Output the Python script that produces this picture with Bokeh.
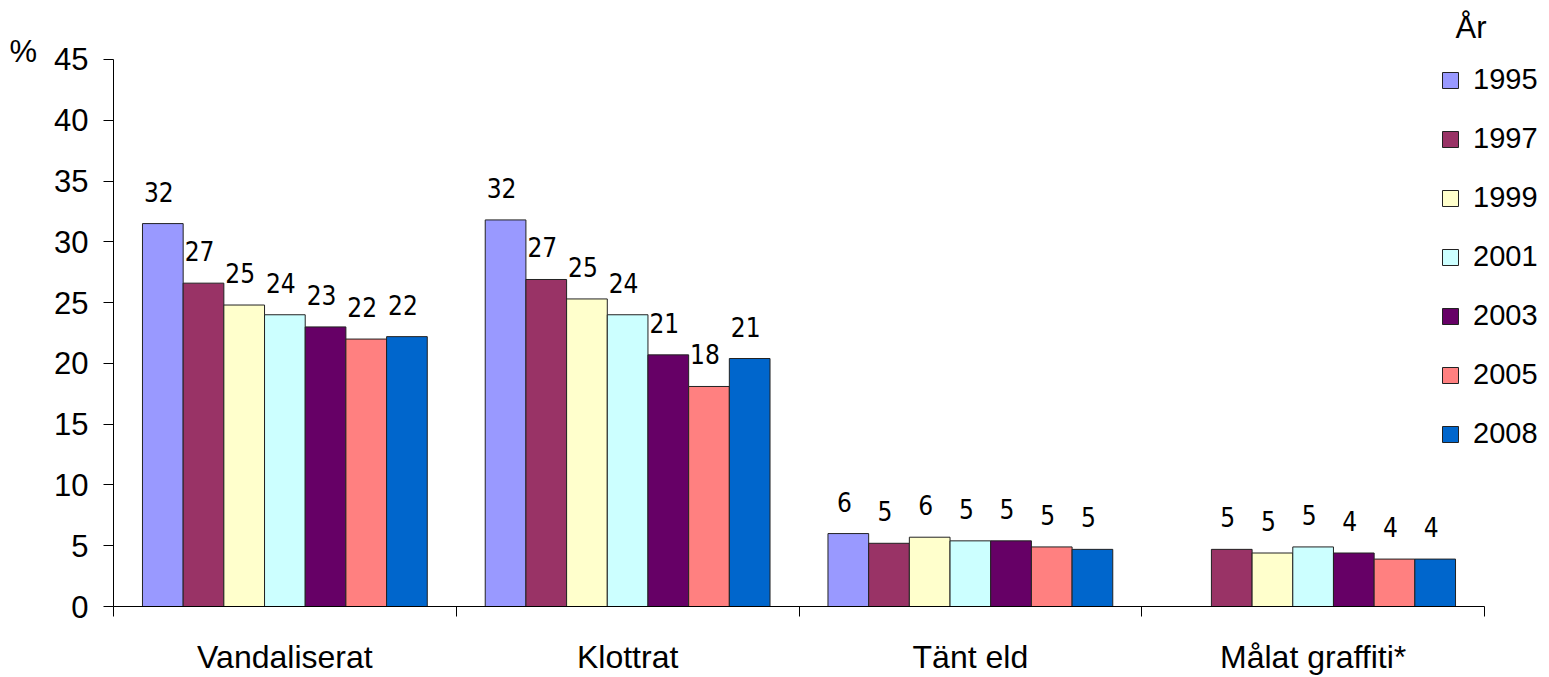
import numpy as np
from bokeh.plotting import figure
from bokeh.models import (FixedTicker, Legend, LegendItem, LabelSet,
                          ColumnDataSource, Range1d)
from bokeh.core.properties import value
from bokeh.embed import file_html
from bokeh.resources import INLINE

categories = ["Vandaliserat", "Klottrat", "Tänt eld", "Målat graffiti*"]
years = ["1995", "1997", "1999", "2001", "2003", "2005", "2008"]
colors = ["#9999FF", "#993366", "#FFFFCC", "#CCFFFF", "#660066", "#FF8080", "#0066CC"]

v1995 = [31.5, 31.8, 6.0, np.nan]
v1997 = [26.6, 26.9, 5.2, 4.7]
v1999 = [24.8, 25.3, 5.7, 4.4]
v2001 = [24.0, 24.0, 5.4, 4.9]
v2003 = [23.0, 20.7, 5.4, 4.4]
v2005 = [22.0, 18.1, 4.9, 3.9]
v2008 = [22.2, 20.4, 4.7, 3.9]
series = [v1995, v1997, v1999, v2001, v2003, v2005, v2008]

l1995 = ["32", "32", "6", ""]
l1997 = ["27", "27", "5", "5"]
l1999 = ["25", "25", "6", "5"]
l2001 = ["24", "24", "5", "5"]
l2003 = ["23", "21", "5", "4"]
l2005 = ["22", "18", "5", "4"]
l2008 = ["22", "21", "5", "4"]
labels = [l1995, l1997, l1999, l2001, l2003, l2005, l2008]

yticks = list(range(0, 46, 5))
ymax = 45

FONT = "Liberation Sans"
NARROW = "DejaVu Sans Condensed"

ncat = len(categories)
TOP = 50
x_end = ncat * (1549 - 113) / (1484 - 113)
y_end = ymax * (607 - TOP) / (607 - 58)

p = figure(width=1549, height=677, output_backend="svg", toolbar_location=None,
           x_range=Range1d(0, x_end), y_range=Range1d(0, y_end),
           min_border_left=113, min_border_right=0, min_border_top=TOP,
           min_border_bottom=70, title="År")
p.outline_line_color = None
p.xgrid.visible = False
p.ygrid.visible = False
p.background_fill_color = "white"
p.border_fill_color = "white"

p.title.text_font = FONT
p.title.text_font_size = "31px"
p.title.text_font_style = "normal"
p.title.text_color = "black"
p.title.align = "left"
p.title.offset = 1342
p.title.standoff = 14

bw = 0.1187
n = len(years)
items = []
for j, (yr, col, vals, labs) in enumerate(zip(years, colors, series, labels)):
    xs = [i + 0.5 + (j - (n - 1) / 2) * bw for i in range(ncat)]
    src = ColumnDataSource(dict(x=xs, top=vals, lab=labs))
    r = p.vbar(x="x", top="top", width=bw, source=src, fill_color=col,
               line_color="#222222", line_width=1)
    items.append(LegendItem(label=yr, renderers=[r]))
    ls = LabelSet(x="x", y="top", text="lab", source=src, text_align="center",
                  text_baseline="alphabetic", y_offset=22, x_offset=-4,
                  text_font=value(NARROW), text_font_size=value("26px"),
                  text_color="black")
    p.add_layout(ls)

# y axis
ya = p.yaxis[0]
ya.ticker = FixedTicker(ticks=yticks)
ya.bounds = (0, ymax)
ya.major_tick_in = 0
ya.major_tick_out = 10
ya.minor_tick_line_color = None
ya.axis_line_color = "black"
ya.major_tick_line_color = "black"
ya.major_label_text_font = FONT
ya.major_label_text_font_size = "31px"
ya.major_label_text_color = "black"
ya.major_label_standoff = 15
ya.axis_label = "%"
ya.axis_label_orientation = "horizontal"
ya.axis_label_text_font = FONT
ya.axis_label_text_font_size = "31px"
ya.axis_label_text_font_style = "normal"
ya.axis_label_text_color = "black"
ya.axis_label_standoff = 14
ya.axis_label_align = "end"

# x axis
xa = p.xaxis[0]
xa.ticker = FixedTicker(ticks=[i + 0.5 for i in range(ncat)],
                        minor_ticks=list(range(ncat + 1)))
xa.bounds = (0, ncat)
xa.major_label_overrides = {i + 0.5: c for i, c in enumerate(categories)}
xa.major_tick_in = 0
xa.major_tick_out = 0
xa.minor_tick_in = 0
xa.minor_tick_out = 10
xa.minor_tick_line_color = "black"
xa.axis_line_color = "black"
xa.major_label_text_font = FONT
xa.major_label_text_font_size = "32px"
xa.major_label_text_color = "black"
xa.major_label_standoff = 22

legend = Legend(items=items, location=(1327, 156), orientation="vertical",
                glyph_width=20, glyph_height=20, label_standoff=13,
                label_text_font=FONT, label_text_font_size="29px",
                label_text_color="black", spacing=26, padding=0, margin=0,
                border_line_alpha=0, background_fill_alpha=0)
p.add_layout(legend, "center")

open("out.html", "w").write(file_html(p, INLINE))
